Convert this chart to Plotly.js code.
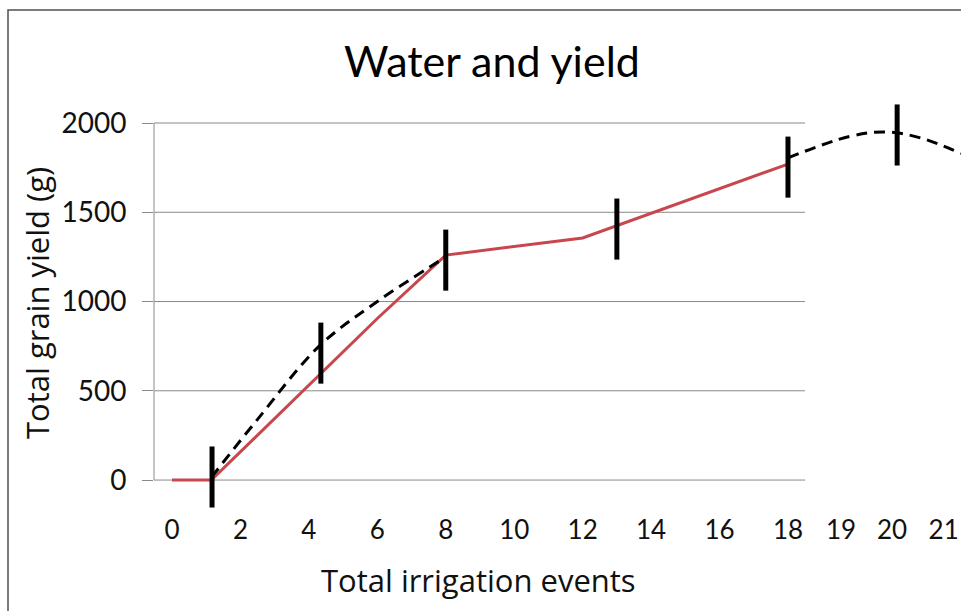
<!DOCTYPE html>
<html>
<head>
<meta charset="utf-8">
<script src="https://cdn.plot.ly/plotly-3.0.1.min.js"></script>
<style>
  html, body { margin: 0; padding: 0; background: #ffffff; }
  #chart { width: 961px; height: 611px; }
</style>
</head>
<body>
<div id="chart"></div>
<script>
// Measured yield (red line)
const yieldX = [0, 1.15, 6, 8, 12, 18];
const yieldY = [0, 0, 905, 1260, 1356, 1770];

// Fitted trend, low-irrigation part (dashed)
const trendLowX = [1.15, 2.5, 4.3, 6, 8];
const trendLowY = [15, 340, 750, 1000, 1250];

// Fitted trend, extrapolated beyond 18 events (dashed)
const trendHighX = [18, 19.8, 20.9, 21.9, 23.06];
const trendHighY = [1805, 1925, 1950, 1915, 1830];

// Treatment means with their spread (black bars)
const barX = [1.17, 4.35, 8, 13, 18, 21.19];
const barY = [17, 711, 1232, 1406, 1753, 1933];
const barErr = [171, 171, 171, 171, 171, 171];

// Axis ticks
const xTickValues = [0, 2, 4, 6, 8, 10, 12, 14, 16, 18, 19.55, 21.04, 22.55];
const xTickLabels = ['0', '2', '4', '6', '8', '10', '12', '14', '16', '18', '19', '20', '21'];
const yTickValues = [0, 500, 1000, 1500, 2000];

const FONT = 'Lato, "Open Sans", sans-serif';
const TITLE_FONT = '"Open Sans", Lato, sans-serif';
const GRID = '#8a8a8a';
const gridEnd = 18.5;
const xMin = -0.526, xMax = 23.056;

const traces = [
  {
    x: yieldX, y: yieldY, type: 'scatter', mode: 'lines',
    line: { color: '#c8474f', width: 3 },
    hoverinfo: 'skip'
  },
  {
    x: trendLowX, y: trendLowY, type: 'scatter', mode: 'lines',
    line: { color: '#000000', width: 3, dash: '11px,7px', shape: 'spline', smoothing: 1 },
    hoverinfo: 'skip'
  },
  {
    x: trendHighX, y: trendHighY, type: 'scatter', mode: 'lines',
    line: { color: '#000000', width: 3, dash: '11px,7px', shape: 'spline', smoothing: 1 },
    hoverinfo: 'skip'
  },
  {
    x: barX, y: barY, type: 'scatter', mode: 'markers',
    marker: { size: 1, opacity: 0 },
    error_y: { type: 'data', array: barErr, visible: true, thickness: 5, width: 0, color: '#000000' },
    hoverinfo: 'skip'
  }
];

// Horizontal gridlines stop at the end of the measured range
const shapes = yTickValues.map(v => ({
  type: 'line', xref: 'paper', yref: 'y',
  x0: 0, x1: (gridEnd - xMin) / (xMax - xMin), y0: v, y1: v,
  line: { color: GRID, width: 1 }, layer: 'below'
}));
// Vertical axis line between 0 and 2000
shapes.push({
  type: 'line', xref: 'paper', yref: 'y', x0: 0, x1: 0, y0: 0, y1: 2000,
  line: { color: GRID, width: 1 }, layer: 'below'
});
// Outer chart frame
shapes.push({
  type: 'rect', xref: 'paper', yref: 'paper',
  x0: (8 - 154) / 807, x1: 1.05, y0: -0.3, y1: (512 - 10) / 412,
  line: { color: '#505050', width: 1.5 }, layer: 'below'
});

const layout = {
  width: 961, height: 611,
  margin: { l: 154, r: 0, t: 100, b: 99 },
  paper_bgcolor: '#ffffff', plot_bgcolor: '#ffffff',
  showlegend: false,
  title: {
    text: 'Water and yield',
    font: { family: FONT, size: 43, color: '#000000' },
    xref: 'container', yref: 'container',
    x: 492 / 961, xanchor: 'center',
    y: 1 - 62 / 611, yanchor: 'middle'
  },
  xaxis: {
    range: [xMin, xMax],
    tickmode: 'array', tickvals: xTickValues, ticktext: xTickLabels,
    showgrid: false, zeroline: false, showline: false, ticks: '',
    tickfont: { family: FONT, size: 26, color: '#111111' },
    fixedrange: true
  },
  yaxis: {
    range: [-179, 2129],
    tickmode: 'array', tickvals: yTickValues,
    showgrid: false, zeroline: false, showline: false,
    ticks: 'outside', ticklen: 11, tickcolor: GRID, tickwidth: 1,
    ticklabelstandoff: 10,
    tickfont: { family: FONT, size: 28, color: '#111111' },
    fixedrange: true
  },
  annotations: [
    {
      text: 'Total irrigation events',
      xref: 'paper', yref: 'paper',
      x: (478 - 154) / 807, y: (512 - 580) / 412,
      xanchor: 'center', yanchor: 'middle', showarrow: false,
      font: { family: TITLE_FONT, size: 31, color: '#111111' }
    },
    {
      text: 'Total grain yield (g)',
      xref: 'paper', yref: 'paper', textangle: -90,
      x: (37 - 154) / 807, y: (512 - 303) / 412,
      xanchor: 'center', yanchor: 'middle', showarrow: false,
      font: { family: TITLE_FONT, size: 31, color: '#111111' }
    }
  ],
  shapes: shapes
};

Plotly.newPlot('chart', traces, layout, { staticPlot: true, displayModeBar: false });
</script>
</body>
</html>
